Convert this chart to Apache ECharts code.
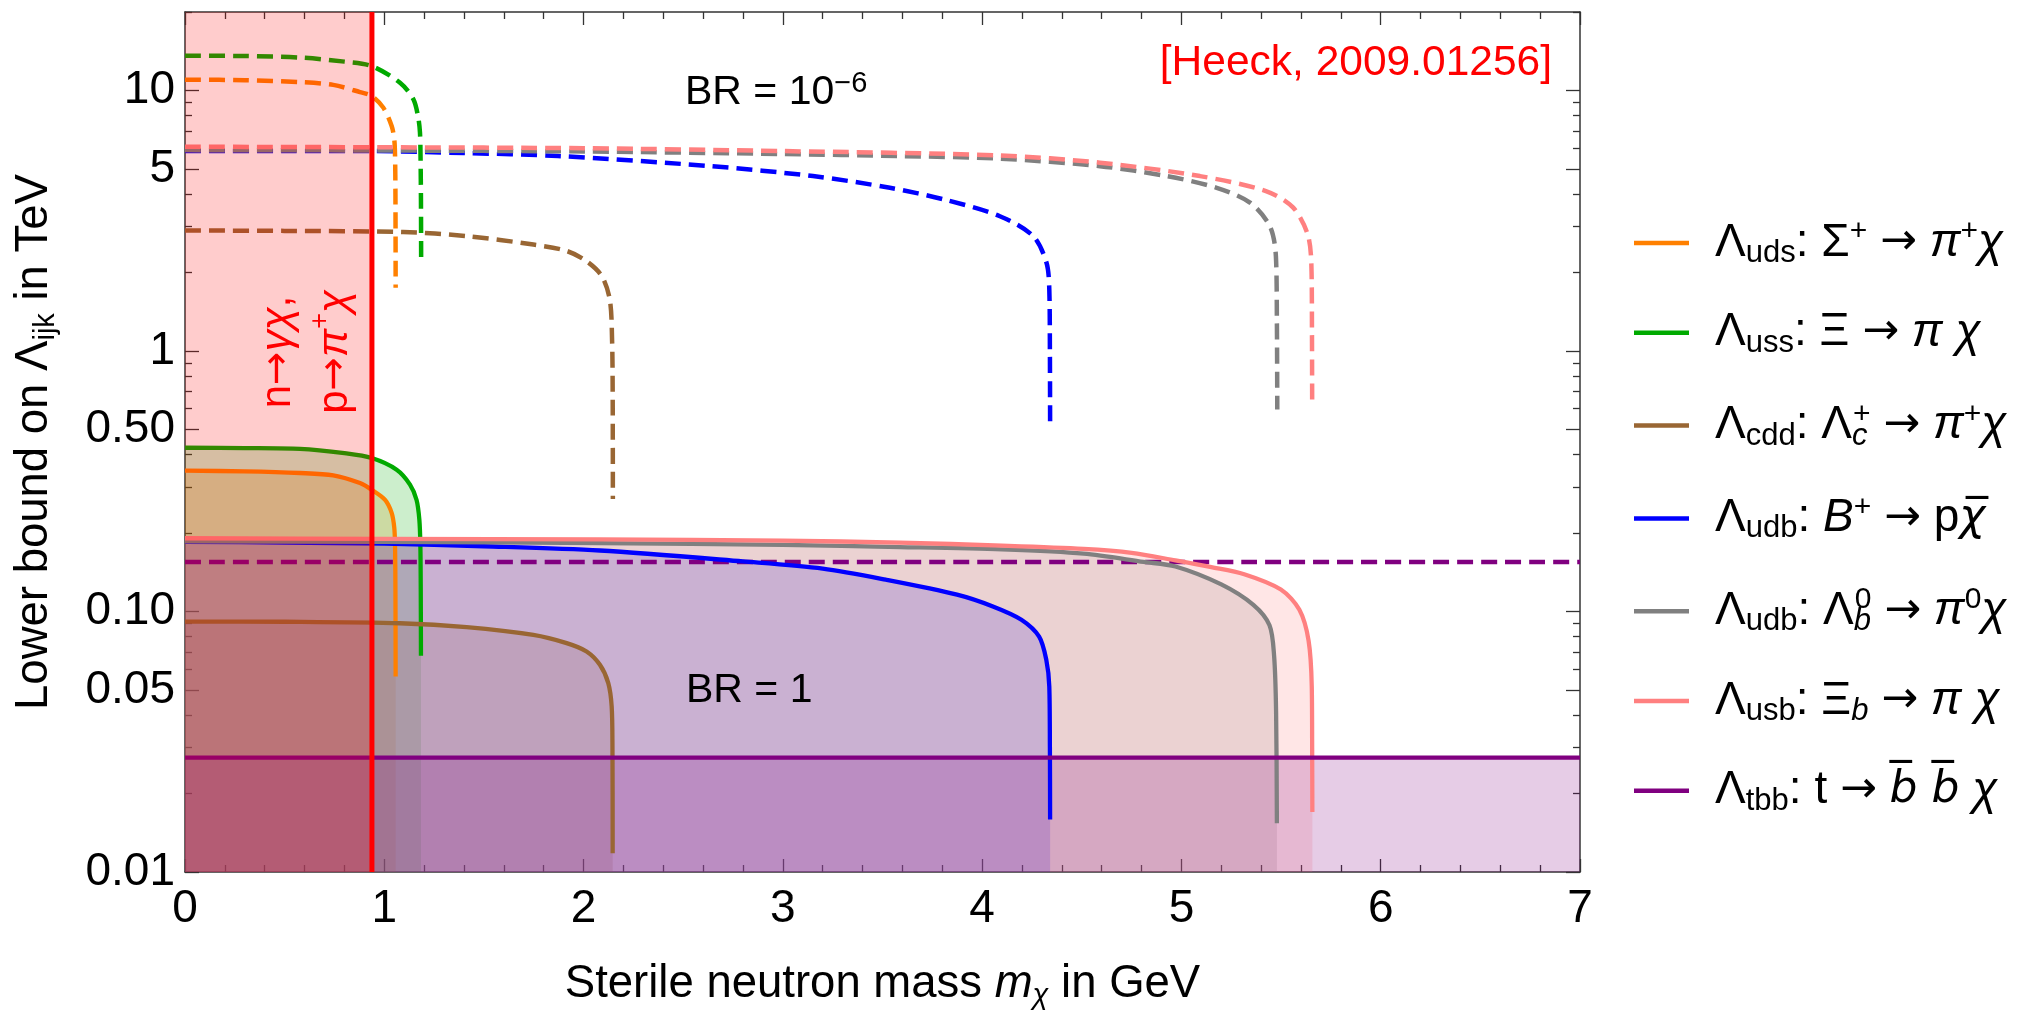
<!DOCTYPE html>
<html>
<head>
<meta charset="utf-8">
<title>Sterile neutron mass bounds</title>
<script src="https://cdn.jsdelivr.net/npm/echarts@6/dist/echarts.min.js"></script>
<style>
  html, body { margin: 0; padding: 0; background: #ffffff; }
  #main { width: 2031px; height: 1017px; }
</style>
</head>
<body>
<div id="main"></div>
<script>
// x: sterile neutron mass m_chi [GeV], y: lower bound on Lambda_ijk [TeV]
// solid = BR 1 (filled), dashed = BR 1e-6
var udsSolid  = [[0,0.347],[0.3,0.345],[0.577,0.340],[0.744,0.333],[0.878,0.311],[0.937,0.293],[1.004,0.268],[1.037,0.239],[1.050,0.210],[1.054,0.180],[1.056,0.120],[1.057,0.0563]];
var udsDashed = [[0,11.0],[0.3,10.95],[0.577,10.77],[0.744,10.5],[0.878,9.85],[0.937,9.52],[0.995,8.59],[1.037,7.30],[1.050,6.5],[1.054,5.6],[1.056,4.0],[1.057,1.75]];

var ussSolid  = [[0,0.425],[0.3,0.424],[0.577,0.421],[0.8,0.405],[0.937,0.388],[1.062,0.350],[1.129,0.307],[1.162,0.268],[1.176,0.225],[1.181,0.180],[1.183,0.12],[1.184,0.0676]];
var ussDashed = [[0,13.6],[0.3,13.55],[0.577,13.37],[0.8,12.9],[0.937,12.4],[1.079,10.7],[1.146,9.25],[1.170,7.9],[1.179,6.9],[1.182,5.5],[1.184,3.8],[1.185,2.18]];

var cddSolid  = [[0,0.0915],[0.5,0.0913],[1.079,0.0901],[1.413,0.0871],[1.748,0.0813],[1.915,0.0756],[2.015,0.0702],[2.082,0.0624],[2.124,0.0531],[2.141,0.0432],[2.145,0.030],[2.146,0.0118]];
var cddDashed = [[0,2.90],[0.5,2.89],[1.095,2.86],[1.413,2.76],[1.748,2.56],[1.915,2.42],[2.015,2.21],[2.091,1.94],[2.132,1.57],[2.143,1.10],[2.146,0.70],[2.147,0.27]];

var udbBSolid  = [[0,0.185],[0.5,0.184],[1.0,0.182],[1.5,0.178],[2.082,0.1714],[2.799,0.1556],[3.2,0.146],[3.516,0.1324],[3.874,0.116],[4.054,0.1045],[4.197,0.0929],[4.286,0.080],[4.322,0.0652],[4.337,0.0515],[4.340,0.030],[4.341,0.0159]];
var udbBDashed = [[0,5.86],[0.5,5.86],[0.951,5.85],[1.4,5.75],[1.872,5.60],[2.64,5.12],[3.151,4.69],[3.537,4.23],[3.818,3.80],[4.089,3.29],[4.256,2.76],[4.323,2.18],[4.337,1.72],[4.340,1.0],[4.341,0.532]];

var udbLSolid  = [[0,0.186],[1.0,0.185],[2.082,0.183],[3.0,0.180],[3.588,0.1767],[4.1,0.173],[4.509,0.1667],[4.81,0.155],[4.970,0.1488],[5.200,0.127],[5.361,0.106],[5.442,0.0885],[5.465,0.0676],[5.475,0.0412],[5.479,0.0154]];
var udbLDashed = [[0,5.90],[1.0,5.88],[2.0,5.83],[3.0,5.70],[3.588,5.60],[4.089,5.47],[4.591,5.12],[4.926,4.69],[5.177,4.23],[5.344,3.71],[5.444,3.01],[5.474,2.31],[5.479,1.3],[5.481,0.596]];

var usbSolid  = [[0,0.191],[1.0,0.190],[2.082,0.189],[3.0,0.187],[3.588,0.1837],[4.1,0.179],[4.509,0.174],[4.75,0.168],[4.97,0.157],[5.15,0.148],[5.315,0.139],[5.499,0.1214],[5.592,0.1015],[5.638,0.0773],[5.654,0.0515],[5.656,0.030],[5.657,0.017]];
var usbDashed = [[0,6.08],[1.0,6.05],[2.0,6.0],[3.0,5.85],[4.089,5.63],[4.591,5.28],[5.093,4.69],[5.427,4.10],[5.561,3.55],[5.636,2.76],[5.653,2.0],[5.655,1.2],[5.656,0.651]];

var tbbSolid  = [[0,0.0275],[7,0.0275]];
var tbbDashed = [[0,0.155],[7,0.155]];

var nBound = 0.938;   // n -> gamma chi, p -> pi+ chi

var xMin = 0, xMax = 7;
var yMin = 0.01, yMax = 20;
var yMajorTicks = [0.01, 0.05, 0.1, 0.5, 1, 5, 10];
var yTickLabels = ['0.01', '0.05', '0.10', '0.50', '1', '5', '10'];
var yMinorTicks = [0.02,0.03,0.04,0.06,0.07,0.08,0.09,0.2,0.3,0.4,0.6,0.7,0.8,0.9,2,3,4,6,7,8,9,20];

var fontFamily = '"Liberation Sans", Arial, Helvetica, sans-serif';
var symFont = '"DejaVu Sans", sans-serif';

var curves = [
  { key: 'uds',  color: '#ff8000', solid: udsSolid,  dashed: udsDashed,
    label: '{L|Λ}{s|uds}{a|: Σ}{p|+}{a| }{r|→}{a| }{i|π}{p|+}{i|χ}' },
  { key: 'uss',  color: '#00aa00', solid: ussSolid,  dashed: ussDashed,
    label: '{L|Λ}{s|uss}{a|: Ξ }{r|→}{a| }{i|π χ}' },
  { key: 'cdd',  color: '#996633', solid: cddSolid,  dashed: cddDashed,
    label: '{L|Λ}{s|cdd}{a|: Λ}{z|c}{p|+}{a| }{r|→}{a| }{i|π}{p|+}{i|χ}' },
  { key: 'udbB', color: '#0000ff', solid: udbBSolid, dashed: udbBDashed,
    label: '{L|Λ}{s|udb}{a|: }{i|B}{p|+}{a| }{r|→}{a| p}{o|χ̅}' },
  { key: 'udbL', color: '#808080', solid: udbLSolid, dashed: udbLDashed,
    label: '{L|Λ}{s|udb}{a|: Λ}{z|b}{p|0}{a| }{r|→}{a| }{i|π}{p|0}{i|χ}' },
  { key: 'usb',  color: '#ff8080', solid: usbSolid,  dashed: usbDashed,
    label: '{L|Λ}{s|usb}{a|: Ξ}{si|b}{a| }{r|→}{a| }{i|π χ}' },
  { key: 'tbb',  color: '#800080', solid: tbbSolid,  dashed: tbbDashed,
    label: '{L|Λ}{s|tbb}{a|: t }{r|→}{a| }{o|b̅ b̅}{i| χ}' }
];

var smoothness = 0.3;
var series = [];
// filled regions under the BR = 1 curves (lines go on top)
curves.forEach(function (c) {
  series.push({
    name: c.key + ' fill', type: 'line', data: c.solid, symbol: 'none', silent: true, smooth: smoothness,
    lineStyle: { opacity: 0 },
    areaStyle: { color: c.color, opacity: 0.2, origin: 'start' },
    z: 2
  });
});
curves.forEach(function (c) {
  series.push({
    name: c.key + ' dashed', type: 'line', data: c.dashed, symbol: 'none', silent: true, smooth: smoothness,
    lineStyle: { color: c.color, width: 4.5, type: [16, 8] },
    z: 3
  });
});
curves.forEach(function (c) {
  series.push({
    name: c.key, type: 'line', data: c.solid, symbol: 'none', silent: true, smooth: smoothness,
    lineStyle: { color: c.color, width: 4.3 },
    itemStyle: { color: c.color },
    z: 3
  });
});
// excluded region from n -> gamma chi / p -> pi+ chi
series.push({
  name: 'nucleon fill', type: 'line', data: [[xMin, yMax], [nBound, yMax]], symbol: 'none', silent: true,
  lineStyle: { opacity: 0 },
  areaStyle: { color: '#ff0000', opacity: 0.2, origin: 'start' },
  z: 4
});
series.push({
  name: 'nucleon', type: 'line', data: [[nBound, yMin], [nBound, yMax]], symbol: 'none', silent: true,
  lineStyle: { color: '#ff0000', width: 5 },
  z: 5
});

var legendText = {};
curves.forEach(function (c) { legendText[c.key] = c.label; });

var axisColor = '#333333';
function xAxisDef(pos, showLabel) {
  return {
    type: 'value', position: pos, min: xMin, max: xMax, interval: 1,
    axisLine: { show: true, lineStyle: { color: axisColor, width: 1.5 } },
    axisTick: { inside: true, length: 13, lineStyle: { color: axisColor, width: 1.3 } },
    minorTick: { show: true, splitNumber: 5, length: 7, lineStyle: { color: axisColor, width: 1.3 } },
    splitLine: { show: false },
    axisLabel: { show: showLabel, fontSize: 46, margin: 14, color: '#000', fontFamily: fontFamily }
  };
}
function yAxisDef(pos, major) {
  return {
    type: 'log', logBase: 10, position: pos, min: yMin, max: yMax,
    axisLine: { show: major, lineStyle: { color: axisColor, width: 1.5 } },
    axisTick: { inside: true, length: major ? 14 : 7, customValues: major ? yMajorTicks : yMinorTicks,
                lineStyle: { color: axisColor, width: 1.3 } },
    splitLine: { show: false },
    minorTick: { show: false },
    axisLabel: { show: false }
  };
}

var xName = xAxisDef('bottom', true);
xName.name = 'Sterile neutron mass {i|m}{s|χ} in GeV';
xName.nameLocation = 'middle';
xName.nameGap = 86;
xName.nameTextStyle = {
  fontSize: 45.5, color: '#000', fontFamily: fontFamily, lineHeight: 52,
  rich: {
    i: { fontSize: 45.5, fontStyle: 'italic', lineHeight: 52, fontFamily: fontFamily },
    s: { fontSize: 29, lineHeight: 24, verticalAlign: 'bottom', fontStyle: 'italic', fontFamily: fontFamily }
  }
};

var yLeft = yAxisDef('left', true);
yLeft.axisLabel = {
  show: true, customValues: yMajorTicks, fontSize: 46, margin: 10, color: '#000', fontFamily: fontFamily,
  formatter: function (v) {
    var best = 0;
    for (var k = 1; k < yMajorTicks.length; k++) {
      if (Math.abs(Math.log(v / yMajorTicks[k])) < Math.abs(Math.log(v / yMajorTicks[best]))) best = k;
    }
    return yTickLabels[best];
  }
};
yLeft.name = 'Lower bound on Λ{s|ijk} in TeV';
yLeft.nameLocation = 'middle';
yLeft.nameGap = 125;
yLeft.nameTextStyle = {
  fontSize: 45.5, color: '#000', fontFamily: fontFamily, lineHeight: 52,
  rich: {
    s: { fontSize: 29, lineHeight: 24, verticalAlign: 'bottom', fontFamily: fontFamily }
  }
};

var chart = echarts.init(document.getElementById('main'), null, { renderer: 'canvas' });
chart.setOption({
  animation: false,
  backgroundColor: '#ffffff',
  textStyle: { fontFamily: fontFamily },
  grid: { left: 185, right: 451, top: 12, bottom: 145, containLabel: false, outerBoundsMode: 'none' },
  xAxis: [xName, xAxisDef('top', false)],
  yAxis: [yLeft, yAxisDef('left', false), yAxisDef('right', true), yAxisDef('right', false)],
  legend: {
    show: true, orient: 'vertical', left: 1634, top: 217, padding: 0,
    icon: 'rect', itemWidth: 55, itemHeight: 4.5, itemGap: 40.8,
    data: curves.map(function (c) { return c.key; }),
    selectedMode: false,
    formatter: function (name) { return legendText[name]; },
    textStyle: {
      color: '#000', fontSize: 46, fontFamily: fontFamily,
      rich: {
        L: { fontSize: 46, lineHeight: 52, padding: [0, 0, 0, 21], fontFamily: fontFamily },
        a: { fontSize: 46, lineHeight: 52, fontFamily: fontFamily },
        r: { fontSize: 44, lineHeight: 52, fontFamily: symFont },
        i: { fontSize: 46, lineHeight: 52, fontStyle: 'italic', fontFamily: fontFamily },
        o: { fontSize: 44, lineHeight: 52, fontStyle: 'italic', fontFamily: symFont },
        s: { fontSize: 31, lineHeight: 26, verticalAlign: 'bottom', fontFamily: fontFamily },
        si: { fontSize: 31, lineHeight: 26, verticalAlign: 'bottom', fontStyle: 'italic', fontFamily: fontFamily },
        z: { fontSize: 31, lineHeight: 26, verticalAlign: 'bottom', fontStyle: 'italic', width: 1, fontFamily: fontFamily },
        p: { fontSize: 30, lineHeight: 30, verticalAlign: 'top', fontFamily: fontFamily }
      }
    }
  },
  graphic: [
    {
      type: 'text', x: 685, y: 93, z: 100, silent: true,
      style: {
        text: '{a|BR = 10}{p|−6}', align: 'left', verticalAlign: 'middle', fill: '#000',
        rich: {
          a: { fontSize: 41, lineHeight: 48, fontFamily: fontFamily },
          p: { fontSize: 29, lineHeight: 26, verticalAlign: 'top', fontFamily: fontFamily }
        }
      }
    },
    {
      type: 'text', x: 686, y: 691, z: 100, silent: true,
      style: { text: 'BR = 1', align: 'left', verticalAlign: 'middle', fill: '#000',
               fontSize: 41, fontFamily: fontFamily }
    },
    {
      type: 'text', x: 1552, y: 63, z: 100, silent: true,
      style: { text: '[Heeck, 2009.01256]', align: 'right', verticalAlign: 'middle', fill: '#ff0000',
               fontSize: 42.5, fontFamily: fontFamily }
    },
    {
      type: 'text', x: 307, y: 352, rotation: Math.PI / 2, z: 100, silent: true,
      style: {
        text: '{r|n}{ra|→}{ri|γχ}{r|,}\n{r|p}{ra|→}{ri|π}{rp|+}{ri|χ}',
        align: 'center', verticalAlign: 'middle', fill: '#ff0000',
        rich: {
          r: { fontSize: 42, lineHeight: 57, fontFamily: fontFamily, color: '#ff0000' },
          ra: { fontSize: 40, lineHeight: 57, fontFamily: symFont, color: '#ff0000' },
          ri: { fontSize: 42, lineHeight: 57, fontStyle: 'italic', fontFamily: fontFamily, color: '#ff0000' },
          rp: { fontSize: 27, lineHeight: 30, verticalAlign: 'top', fontFamily: fontFamily, color: '#ff0000' }
        }
      }
    }
  ],
  series: series
});
</script>
</body>
</html>
